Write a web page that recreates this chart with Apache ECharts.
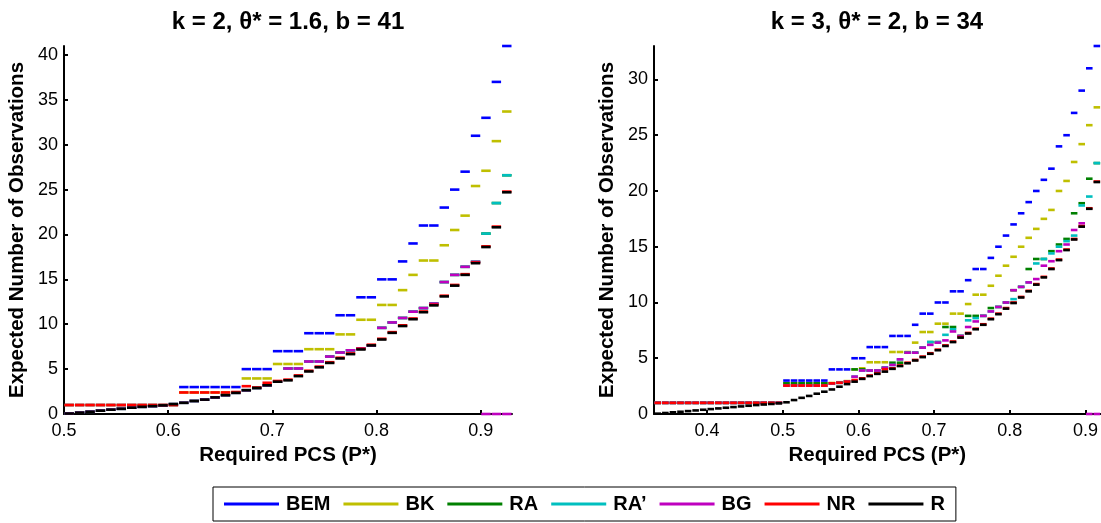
<!DOCTYPE html>
<html><head><meta charset="utf-8">
<script src="https://cdn.jsdelivr.net/npm/echarts@6/dist/echarts.min.js"></script>
<style>html,body{margin:0;padding:0;background:#fff}#c{width:1101px;height:523px}</style>
</head><body><div id="c"></div>
<script>
// ---------- data ----------
const STEP = 0.01;                // P* grid step
const leftStart = 0.50;           // P* = 0.50 ... 0.92
const rightStart = 0.33;          // P* = 0.33 ... 0.91

const methods = ['BEM', 'BK', 'RA', 'RA\u2019', 'BG', 'NR', 'R'];
const colors = ['#0000ff', '#bfbf00', '#008000', '#00bfbf', '#bf00bf', '#ff0000', '#000000'];

const leftTitle = 'k = 2, \u03b8* = 1.6, b = 41';
const rightTitle = 'k = 3, \u03b8* = 2, b = 34';
const leftYTicks = [0, 5, 10, 15, 20, 25, 30, 35, 40];
const rightYTicks = [0, 5, 10, 15, 20, 25, 30];
const leftXTicks = [0.5, 0.6, 0.7, 0.8, 0.9];
const rightXTicks = [0.4, 0.5, 0.6, 0.7, 0.8, 0.9];

// left panel (k = 2)
const leftBEM = [1,1,1,1,1,1,1,1,1,1,1, 3,3,3,3,3,3, 5,5,5, 7,7,7, 9,9,9, 11,11, 13,13, 15,15, 17, 19, 21,21, 23, 25, 27, 31, 33, 37, 41];
const leftBK = [1,1,1,1,1,1,1,1,1,1,1, 2.4,2.4,2.4,2.4,2.4,2.4, 3.96,3.96,3.96, 5.57,5.57,5.57, 7.22,7.22,7.22, 8.87,8.87, 10.5,10.5, 12.15,12.15, 13.8, 15.5, 17.1,17.1, 18.8, 20.5, 22.1, 25.4, 27.1, 30.4, 33.7];
const leftRA = [0.05,0.15,0.25,0.37,0.48,0.58,0.7,0.8,0.88,0.96,1.1,1.25,1.45,1.6,1.85,2.1,2.36,2.65,2.9,3.2,3.6, 5.07,5.07,5.85,5.85,6.4,6.85,7.1,7.3,7.64,9.6,10.2,10.7,11.4,11.8,12.3,14.7,15.5,16.4,16.95, 20.1,23.5,26.6];
const leftRAp = [0.05,0.15,0.25,0.37,0.48,0.58,0.7,0.8,0.88,0.96,1.1,1.25,1.45,1.6,1.85,2.1,2.36,2.65,2.9,3.2,3.6, 5.07,5.07,5.85,5.85,6.4,6.85,7.1,7.3,7.64,9.6,10.2,10.7,11.4,11.8,12.3,14.7,15.5,16.4,16.95, 20.1,23.5,26.6];
const leftBG = [0.05,0.15,0.25,0.37,0.48,0.58,0.7,0.8,0.88,0.96,1.1,1.25,1.45,1.6,1.85,2.1,2.36,2.65,2.9,3.2,3.6, 5.07,5.07,5.85,5.85,6.4,6.85,7.1,7.3,7.64,9.6,10.2,10.7,11.4,11.8,12.3,14.7,15.5,16.4,16.95, 0,0,0];
const leftNR = [1,1,1,1,1,1,1,1,1,1,1, 2.4,2.4,2.4,2.4,2.4, 2.45, 3.1, 2.95, 3.48, 3.68, 3.83,4.3,4.82,5.28,5.77,6.27,6.75,7.27,7.72,8.38,9.12,9.88,10.64,11.42,12.18,13.18,14.38,15.58,16.88,18.68,20.88,24.78];
const leftR = [0.05,0.15,0.25,0.37,0.48,0.58,0.7,0.8,0.88,0.96,1.1, 1.25,1.45,1.6,1.85,2.1,2.36, 2.65,2.9,3.2, 3.6,3.75,4.22, 4.74,5.2,5.69, 6.19,6.67, 7.19,7.64, 8.3,9.04, 9.8, 10.56, 11.34,12.1, 13.1, 14.3, 15.5, 16.8, 18.6, 20.8, 24.7];

// right panel (k = 3)
const rightBEM = [1,1,1,1,1,1,1,1,1,1,1,1,1,1,1,1,1, 3,3,3,3,3,3, 4,4,4, 5,5, 6,6,6, 7,7,7, 8, 9,9, 10,10, 11,11, 12, 13,13, 14, 15, 16, 17, 18, 19, 20, 21, 22, 24, 25, 27, 29, 31, 33];
const rightBK = [1,1,1,1,1,1,1,1,1,1,1,1,1,1,1,1,1, 2.75,2.75,2.75,2.75,2.75,2.75, 2.78,2.85,2.95, 4.0, 4.1, 4.64,4.64,4.64, 5.56,5.56,5.56, 6.4, 7.35,7.35, 8.1,8.1, 9.0,9.0, 9.86, 10.7,10.7, 11.5, 12.4, 13.3, 14.1, 15.0, 15.8, 16.6, 17.5, 18.3, 20.0, 20.9, 22.6, 24.2, 25.9, 27.5];
const rightRA = [1,1,1,1,1,1,1,1,1,1,1,1,1,1,1,1,1, 2.75,2.75,2.75,2.75,2.75,2.75, 2.75,2.8,2.9, 4.0,4.0,3.9,3.9,4.15,4.6,4.6,5.5,5.5,5.95,6.45,6.45,7.8,7.8,7.0,8.8,8.8,8.8,9.5,9.6,10.0,11.1,11.4,13.0,13.9,13.9,14.6,15.2,15.7,18.0,18.9,21.1,22.5];
const rightRAp = [1,1,1,1,1,1,1,1,1,1,1,1,1,1,1,1,1, 2.55,2.55,2.55,2.55,2.55,2.55, 2.75,2.8,2.9, 3.35,3.9,3.9,3.9,4.15,4.4,4.9,5.5,5.5,5.95,6.45,6.45,7.1,7.6,7.0,8.4,8.6,8.8,9.2,9.6,10.0,10.3,11.4,11.8,13.5,13.9,14.4,15.0,15.5,16.0,18.7,19.5,22.5];
const rightBG = [1,1,1,1,1,1,1,1,1,1,1,1,1,1,1,1,1, 2.55,2.55,2.55,2.55,2.55,2.55, 2.75,2.8,2.9, 3.35,3.9,3.9,3.9,4.15,4.4,4.9,5.5,5.5,5.95,6.2,6.4,6.6,7.4,7.0,7.8,8.3,8.8,9.2,9.6,10.0,11.1,11.4,11.8,12.1,13.3,13.7,14.6,15.2,16.5,17.1,0,0];
const rightNR = [1,1,1,1,1,1,1,1,1,1,1,1,1,1,1,1,1, 2.55,2.55,2.55,2.55,2.55,2.55, 2.75,2.8,2.9, 3.05, 3.2, 3.45,3.65,4.0, 4.1,4.35,4.6, 4.85, 5.15,5.45, 5.77,6.15, 6.5,6.9, 7.27, 7.65,8.05, 8.55, 9.0, 9.5, 10.0, 10.5, 11.05, 11.65, 12.3, 13.05, 13.85, 14.75, 15.7, 16.85, 18.45, 20.85];
const rightR = [0.03,0.09,0.15,0.2,0.26,0.32,0.38,0.44,0.5,0.56,0.62,0.68,0.74,0.8,0.85,0.9,0.96, 1.05,1.25,1.45,1.62,1.82,2.0, 2.2,2.45,2.68, 2.9, 3.15, 3.4,3.6,3.8, 4.05,4.3,4.55, 4.8, 5.1,5.4, 5.72,6.1, 6.45,6.85, 7.22, 7.6,8.0, 8.5, 8.95, 9.45, 9.95, 10.45, 11.0, 11.6, 12.25, 13.0, 13.8, 14.7, 15.65, 16.8, 18.4, 20.8];

const leftSeries = [leftBEM, leftBK, leftRA, leftRAp, leftBG, leftNR, leftR];
const rightSeries = [rightBEM, rightBK, rightRA, rightRAp, rightBG, rightNR, rightR];

// ---------- chart ----------
const FONT = '"Liberation Sans", Arial, Helvetica, sans-serif';
function toPairs(vals, start) {
  return vals.map((v, i) => [+(start + i * STEP).toFixed(4), v]);
}
function segRender(params, api) {
  const x = api.value(0), y = api.value(1);
  const a = api.coord([x, y]);
  const b = api.coord([x + STEP, y]);
  return {
    type: 'line',
    shape: { x1: a[0] + 0.5, y1: a[1], x2: b[0] - 0.5, y2: b[1] },
    style: { stroke: api.visual('color'), lineWidth: 2.6 }
  };
}
const axisLineStyle = { show: true, lineStyle: { color: '#000', width: 2 } };
const nameStyle = { fontFamily: FONT, fontWeight: 'bold', fontSize: 20.5, color: '#000' };
function xAxis(gridIndex, min, max, ticks) {
  return {
    type: 'value', gridIndex, min, max,
    name: 'Required PCS (P*)', nameLocation: 'middle', nameGap: 28,
    nameTextStyle: nameStyle,
    axisLine: axisLineStyle,
    axisTick: { show: true, inside: true, length: 4, customValues: ticks, lineStyle: { color: '#000', width: 2 } },
    axisLabel: { customValues: ticks, margin: 8, fontFamily: FONT, fontSize: 18, color: '#000', formatter: v => v.toFixed(1) },
    splitLine: { show: false }
  };
}
function yAxis(gridIndex, max, ticks) {
  return {
    type: 'value', gridIndex, min: 0, max,
    name: 'Expected Number of Observations', nameLocation: 'middle', nameGap: 36,
    nameTextStyle: nameStyle,
    axisLine: axisLineStyle,
    axisTick: { show: true, inside: true, length: 4, customValues: ticks, lineStyle: { color: '#000', width: 2 } },
    axisLabel: { customValues: ticks, margin: 6, fontFamily: FONT, fontSize: 18, color: '#000' },
    splitLine: { show: false }
  };
}

const series = [];
methods.forEach((m, k) => {
  series.push({ name: m, type: 'custom', xAxisIndex: 0, yAxisIndex: 0, clip: false,
    itemStyle: { color: colors[k] }, renderItem: segRender, data: toPairs(leftSeries[k], leftStart), z: 2 + k });
  series.push({ name: m, type: 'custom', xAxisIndex: 1, yAxisIndex: 1, clip: false,
    itemStyle: { color: colors[k] }, renderItem: segRender, data: toPairs(rightSeries[k], rightStart), z: 2 + k });
});

const chart = echarts.init(document.getElementById('c'), null, { renderer: 'canvas' });
chart.setOption({
  animation: false,
  backgroundColor: '#fff',
  grid: [
    { left: 64, right: 589, top: 46, bottom: 109, containLabel: false },
    { left: 654, right: 0, top: 46, bottom: 109, containLabel: false }
  ],
  xAxis: [xAxis(0, 0.5, 0.93, leftXTicks), xAxis(1, 0.33, 0.92, rightXTicks)],
  yAxis: [yAxis(0, 41, leftYTicks), yAxis(1, 33, rightYTicks)],
  title: [
    { text: leftTitle, left: 283, top: 5, textAlign: 'center',
      textStyle: { fontFamily: FONT, fontWeight: 'bold', fontSize: 24, color: '#000' } },
    { text: rightTitle, left: 872, top: 5, textAlign: 'center',
      textStyle: { fontFamily: FONT, fontWeight: 'bold', fontSize: 24, color: '#000' } }
  ],
  legend: {
    data: methods.map(m => ({ name: m, icon: 'rect' })),
    left: 213, top: 487, orient: 'horizontal',
    itemWidth: 55, itemHeight: 3, itemGap: 13,
    padding: [7, 11, 7, 11],
    borderColor: '#000', borderWidth: 1,
    textStyle: { fontFamily: FONT, fontWeight: 'bold', fontSize: 20, color: '#000', padding: [0, 0, 0, 2] }
  },
  series
});
</script></body></html>
